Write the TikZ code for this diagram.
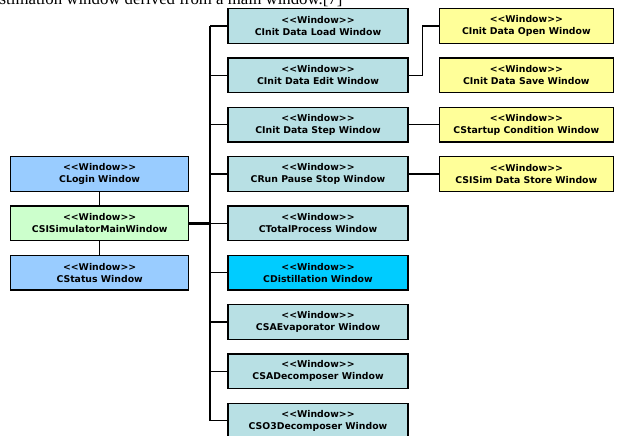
\documentclass[tikz,border=0pt]{standalone}
\usepackage{fontspec}
\setmainfont{Liberation Serif}
\newfontfamily\winfont{DejaVu Sans}
\usetikzlibrary{positioning}
\definecolor{midcol}{RGB}{184,224,228}
\definecolor{distcol}{RGB}{0,204,255}
\definecolor{bluecol}{RGB}{153,204,255}
\definecolor{grncol}{RGB}{204,255,204}
\definecolor{yelcol}{RGB}{255,255,153}
\newcommand{\stereo}{<\kern0pt<Window>\kern0pt>}

\begin{document}
\begin{tikzpicture}[x=0.75pt, y=-0.75pt, node distance=10pt,
every node/.style={draw, line width=1pt, minimum width=135pt, minimum height=26pt,
inner sep=0pt, align=center, font={\winfont\bfseries\fontsize{7}{9}\selectfont}},
wire/.style={line width=1pt}]
\useasboundingbox (0,0) rectangle (620,435);
\clip (0,0) rectangle (620,435);
\node[draw=none, minimum width=0pt, minimum height=0pt, anchor=base west,
font=\fontsize{12.6}{15}\selectfont] (cap) at (-1,5) {stimation window derived from a main window.[7]};
\node[fill=midcol] (m1) at (318,26) {\stereo\\CInit Data Load Window};
\foreach \i/\c/\t [count=\j from 1] in {2/midcol/CInit Data Edit Window, 3/midcol/CInit Data Step Window,
4/midcol/CRun Pause Stop Window, 5/midcol/CTotalProcess Window, 6/distcol/CDistillation Window,
7/midcol/CSAEvaporator Window, 8/midcol/CSADecomposer Window, 9/midcol/CSO3Decomposer Window}{
\node[fill=\c, below = of m\j] (m\i) {\stereo\\\t};}
\node[fill=yelcol, minimum width=130.5pt, right = 22.5pt of m1] (r1) {\stereo\\CInit Data Open Window};
\node[fill=yelcol, minimum width=130.5pt, right = 22.5pt of m2] (r2) {\stereo\\CInit Data Save Window};
\node[fill=yelcol, minimum width=130.5pt, right = 22.5pt of m3] (r3) {\stereo\\CStartup Condition Window};
\node[fill=yelcol, minimum width=130.5pt, right = 22.5pt of m4] (r4) {\stereo\\CSISim Data Store Window};
\node[fill=grncol, minimum width=133.5pt, left = 28.5pt of m5] (main) {\stereo\\CSISimulatorMainWindow};
\node[fill=bluecol, minimum width=133.5pt, above = of main] (login) {\stereo\\CLogin Window};
\node[fill=bluecol, minimum width=133.5pt, below = of main] (status) {\stereo\\CStatus Window};
\coordinate (t) at (210,0);
\draw[line width=1.5pt] (m1.west -| t) -- (m9.west -| t);
\draw[line width=2pt] (main) -- (main.east -| t);
\foreach \i in {1,...,9}{
\draw[wire] (m\i.west) -- (m\i.west -| t);}
\draw[wire] (login) -- (main) -- (status);
\draw[wire] (m2.east) -- ++(14,0) |- (r1.west);
\draw[wire] (m3) -- (r3) (m4) -- (r4);
\end{tikzpicture}
\end{document}
